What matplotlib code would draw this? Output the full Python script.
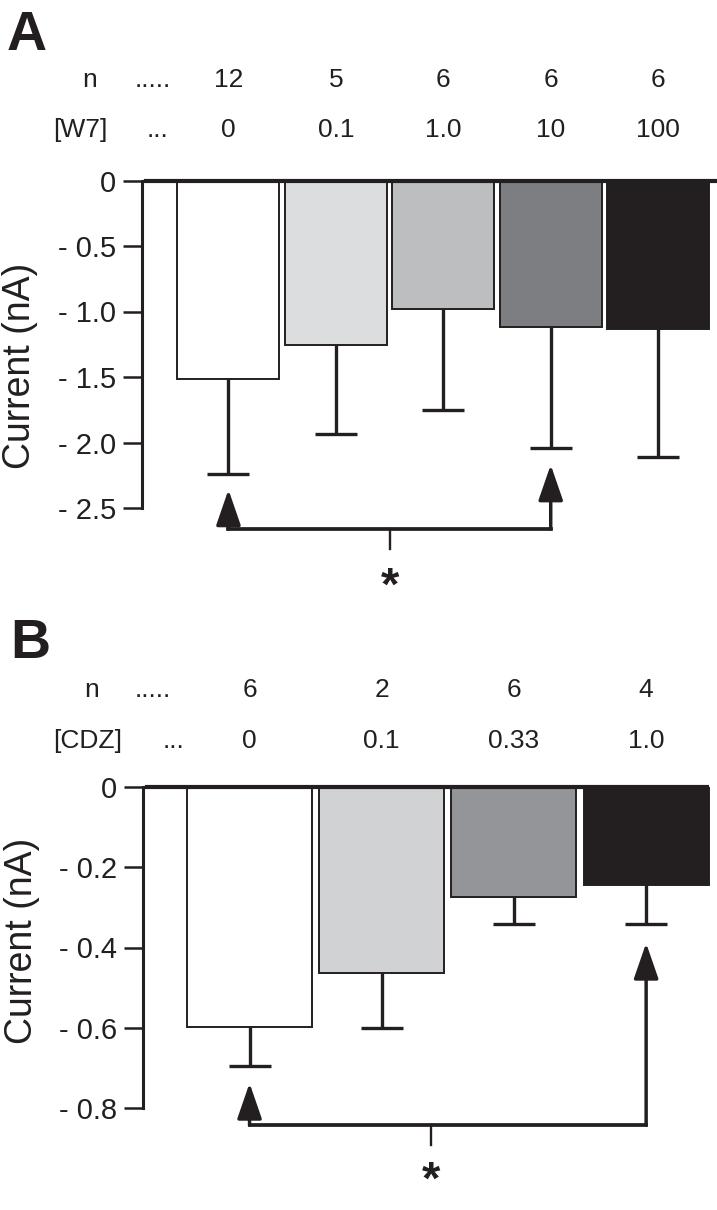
import matplotlib
matplotlib.use("Agg")
import matplotlib.pyplot as plt
from matplotlib.transforms import blended_transform_factory
import numpy as np

plt.rcParams['font.family'] = ['Liberation Sans', 'DejaVu Sans']

INK = "#231f20"

# ---------------- Panel A data (W7) ----------------
a_conc = ["0", "0.1", "1.0", "10", "100"]
a_n = ["12", "5", "6", "6", "6"]
a_mean = [-1.515, -1.255, -0.98, -1.12, -1.135]
a_low = [-2.24, -1.935, -1.75, -2.04, -2.11]
a_colors = ["#ffffff", "#dcddde", "#bcbec0", "#7d7e81", "#231f20"]
a_ticks = [0, -0.5, -1.0, -1.5, -2.0, -2.5]
a_ticklabels = ["0", "- 0.5", "- 1.0", "- 1.5", "- 2.0", "- 2.5"]

# ---------------- Panel B data (CDZ) ----------------
b_conc = ["0", "0.1", "0.33", "1.0"]
b_n = ["6", "2", "6", "4"]
b_mean = [-0.598, -0.464, -0.274, -0.244]
b_low = [-0.696, -0.60, -0.342, -0.342]
b_colors = ["#ffffff", "#d0d2d3", "#939598", "#231f20"]
b_ticks = [0, -0.2, -0.4, -0.6, -0.8]
b_ticklabels = ["0", "- 0.2", "- 0.4", "- 0.6", "- 0.8"]

W, H = 717, 1210
fig = plt.figure(figsize=(W / 100, H / 100), dpi=100)


def px_axes(l, r, t, b):
    return fig.add_axes([l / W, 1 - b / H, (r - l) / W, (b - t) / H])


def draw_panel(ax, means, lows, colors, ticks, ticklabels, width, line_end):
    x = np.arange(len(means))
    ax.bar(x, means, width=width, color=colors, edgecolor=INK,
           linewidth=1.4, zorder=2)
    lower = np.array(means) - np.array(lows)
    eb = ax.errorbar(x, means, yerr=[lower, np.zeros_like(lower)], fmt='none',
                     ecolor=INK, elinewidth=2.4, capsize=15, capthick=2.4,
                     zorder=3)
    if len(eb[1]) > 1:
        eb[1][1].set_visible(False)
    ax.axhline(0, xmin=0.007, xmax=line_end, lw=3.0, color=INK, zorder=4,
               clip_on=False)
    for s in ("top", "right", "bottom"):
        ax.spines[s].set_visible(False)
    ax.spines["left"].set_linewidth(2.2)
    ax.spines["left"].set_color(INK)
    ax.spines["left"].set_bounds(ticks[-1], 0)
    ax.set_xticks([])
    ax.set_yticks(ticks)
    ax.set_yticklabels(ticklabels)
    ax.tick_params(axis="y", length=13.5, width=1.8, pad=5, labelsize=21,
                   colors=INK)
    ax.patch.set_visible(False)


def bracket(ax, x0, x1, tip0, tip1, by, tick_x, tick_bot, star_y):
    ap = dict(arrowstyle="-|>,head_length=1.1,head_width=0.38",
              mutation_scale=20, lw=2.5, color=INK, shrinkA=0, shrinkB=0,
              clip_on=False)
    ax.plot([x0, x1], [by, by], color=INK, lw=2.7, clip_on=False,
            solid_capstyle="projecting", zorder=5)
    ax.annotate("", xy=(x0, tip0), xytext=(x0, by), arrowprops=ap,
                annotation_clip=False)
    ax.annotate("", xy=(x1, tip1), xytext=(x1, by), arrowprops=ap,
                annotation_clip=False)
    ax.plot([tick_x, tick_x], [by, tick_bot], color=INK, lw=1.7,
            clip_on=False, zorder=5)
    ax.text(tick_x, star_y, "*", ha="center", va="top", fontsize=34,
            fontweight="bold", color=INK, clip_on=False)


def header(ax, xs, n_vals, conc_vals, y_n, y_c):
    tr = blended_transform_factory(ax.transData, fig.transFigure)
    for xi, nv, cv in zip(xs, n_vals, conc_vals):
        ax.text(xi, 1 - y_n / H, nv, transform=tr, ha="center",
                va="baseline", fontsize=19, color=INK)
        ax.text(xi, 1 - y_c / H, cv, transform=tr, ha="center",
                va="baseline", fontsize=19, color=INK)


# ---------------- Panel A ----------------
axA = px_axes(142, 717, 180.5, 508)
axA.set_xlim(-0.805, 4.548)
axA.set_ylim(-2.5, 0)
draw_panel(axA, a_mean, a_low, a_colors, a_ticks, a_ticklabels, 0.95, 1.0)
bracket(axA, 0, 3, a_low[0] - 0.12, a_low[3] - 0.13, -2.66, 1.5, -2.81, -2.94)
header(axA, np.arange(len(a_n)), a_n, a_conc, 87, 137)

fig.text(7 / W, 1 - 50 / H, "A", fontsize=40, fontweight="bold",
         ha="left", va="baseline", color=INK)
fig.text(90 / W, 1 - 87 / H, "n", fontsize=19, ha="center", va="baseline",
         color=INK)
fig.text(135 / W, 1 - 87 / H, ".....", fontsize=19, ha="left",
         va="baseline", color=INK)
fig.text(53 / W, 1 - 137 / H, "[W7]", fontsize=19, ha="left",
         va="baseline", color=INK)
fig.text(147 / W, 1 - 137 / H, "...", fontsize=19, ha="left",
         va="baseline", color=INK)
fig.text(20 / W, 1 - 366 / H, "Current (nA)", fontsize=27, rotation=90,
         ha="center", va="center", color=INK)

# ---------------- Panel B ----------------
axB = px_axes(143, 717, 787, 1108)
axB.set_xlim(-0.806, 3.536)
axB.set_ylim(-0.8, 0)
draw_panel(axB, b_mean, b_low, b_colors, b_ticks, b_ticklabels, 0.945,
           0.9826)
bracket(axB, 0, 3, b_low[0] - 0.042, b_low[3] - 0.047, -0.843, 1.37,
        -0.893, -0.930)
header(axB, np.arange(len(b_n)), b_n, b_conc, 697, 748)

fig.text(10 / W, 1 - 658 / H, "B", fontsize=40, fontweight="bold",
         ha="left", va="baseline", color=INK)
fig.text(92 / W, 1 - 697 / H, "n", fontsize=19, ha="center", va="baseline",
         color=INK)
fig.text(135 / W, 1 - 697 / H, ".....", fontsize=19, ha="left",
         va="baseline", color=INK)
fig.text(53 / W, 1 - 748 / H, "[CDZ]", fontsize=19, ha="left",
         va="baseline", color=INK)
fig.text(163 / W, 1 - 748 / H, "...", fontsize=19, ha="left",
         va="baseline", color=INK)
fig.text(22 / W, 1 - 941 / H, "Current (nA)", fontsize=27, rotation=90,
         ha="center", va="center", color=INK)

fig.savefig("out.png", dpi=100, facecolor="white")
